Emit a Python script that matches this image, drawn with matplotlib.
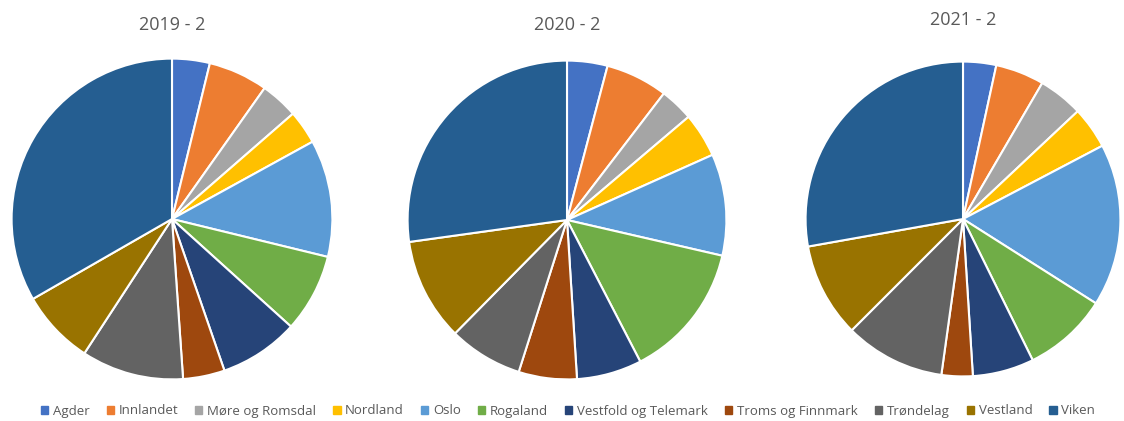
import matplotlib
matplotlib.use("Agg")
import matplotlib.pyplot as plt

plt.rcParams['font.family'] = ['Open Sans', 'DejaVu Sans']

regions = ["Agder", "Innlandet", "Møre og Romsdal", "Nordland", "Oslo", "Rogaland",
           "Vestfold og Telemark", "Troms og Finnmark", "Trøndelag", "Vestland", "Viken"]
colors = ["#4472C4", "#ED7D31", "#A5A5A5", "#FFC000", "#5B9BD5", "#70AD47",
          "#264478", "#9E480E", "#636363", "#997300", "#255E91"]

titles = ["2019 - 2", "2020 - 2", "2021 - 2"]
share_2019 = [3.8, 6.0, 3.8, 3.4, 11.8, 7.9, 8.0, 4.2, 10.3, 7.5, 33.3]
share_2020 = [4.1, 6.3, 3.4, 4.5, 10.3, 13.8, 6.6, 5.9, 7.5, 10.4, 27.2]
share_2021 = [3.4, 5.0, 4.6, 4.3, 16.7, 8.7, 6.3, 3.2, 10.3, 9.7, 27.8]
shares = [share_2019, share_2020, share_2021]

W, H = 1124, 421
fig = plt.figure(figsize=(W / 100, H / 100), dpi=100)

# pie centres / radius in pixels, title y in pixels
centres = [(172, 219, 162), (567, 220, 161), (963, 219, 159)]
title_y = [25, 25, 20]

for (cx, cy, r), vals, t, ty in zip(centres, shares, titles, title_y):
    ax = fig.add_axes([(cx - r) / W, (H - cy - r) / H, 2 * r / W, 2 * r / H])
    ax.pie(vals, colors=colors, startangle=90, counterclock=False, radius=1,
           wedgeprops=dict(edgecolor="white", linewidth=1.5))
    ax.set_xlim(-1.01, 1.01)
    ax.set_ylim(-1.01, 1.01)
    ax.set_aspect("equal")
    ax.axis("off")
    fig.text(cx / W, 1 - ty / H, t, ha="center", va="center", fontsize=13, color="#595959")

handles = [plt.Rectangle((0, 0), 1, 1, color=c) for c in colors]
fig.legend(handles, regions, loc="center", bbox_to_anchor=(568 / W, 1 - 411 / H), ncol=11,
           frameon=False, fontsize=9.5, handlelength=0.55, handleheight=0.55,
           handletextpad=0.35, columnspacing=1.3, labelcolor="#595959")

fig.savefig("out.png", dpi=100)
